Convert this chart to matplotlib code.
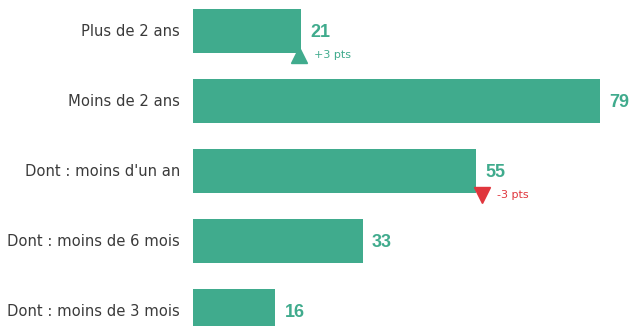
import matplotlib.pyplot as plt

# data
categories = ["Plus de 2 ans", "Moins de 2 ans", "Dont : moins d'un an",
              "Dont : moins de 6 mois", "Dont : moins de 3 mois"]
values = [21, 79, 55, 33, 16]
deltas = [3, None, -3, None, None]

GREEN = "#40ab8d"
RED = "#e0363d"
PX = 5.15  # pixels per unit

fig = plt.figure(figsize=(6.31, 3.26), dpi=100)
ax = fig.add_axes([193 / 631, 0, 438 / 631, 1])
ax.set_xlim(0, 438 / PX)
ax.set_ylim((326 - 31) / 70, -31 / 70)
ax.axis("off")

ypos = list(range(len(values)))
ax.barh(ypos, values, height=0.63, color=GREEN)

for y, v, lab, d in zip(ypos, values, categories, deltas):
    ax.text(-13 / PX, y, lab, ha="right", va="center", fontsize=10.6,
            color="#3a3a3a", family="DejaVu Sans", clip_on=False)
    ax.text(v + 9 / PX, y + 0.02, str(v), ha="left", va="center", fontsize=13,
            fontweight="bold", color=GREEN, family="Liberation Sans")
    if d is not None:
        col = GREEN if d > 0 else RED
        mk = "^" if d > 0 else "v"
        mx = v - 2 / PX if d > 0 else v + 6 / PX
        ax.plot(mx, y + 0.34, marker=mk, markersize=11, color=col, clip_on=False)
        ax.text(mx + 15 / PX, y + 0.34, f"{d:+d} pts",
                ha="left", va="center", fontsize=8, color=col,
                family="DejaVu Sans")

fig.savefig("out.png", dpi=100)
